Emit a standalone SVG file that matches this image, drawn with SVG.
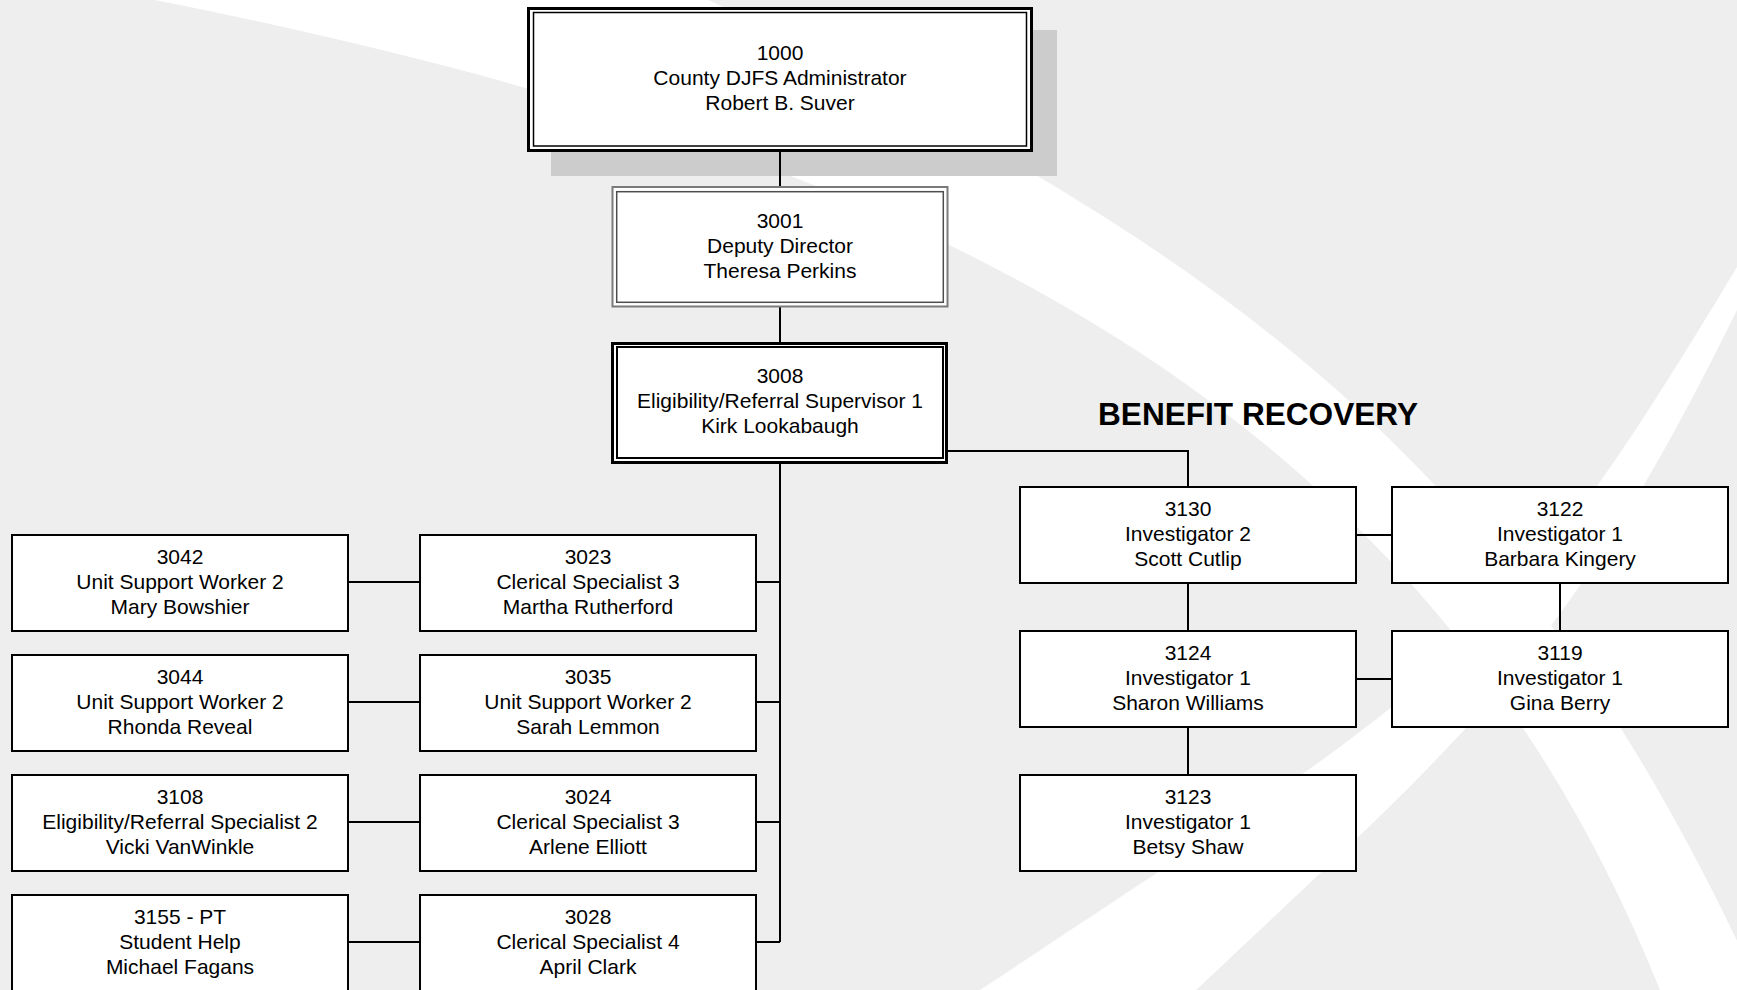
<svg xmlns="http://www.w3.org/2000/svg" width="1737" height="990" viewBox="0 0 1737 990">
  <style>
    .bg { fill: #eeeeee; }
    .sw { fill: #ffffff; }
    .box { fill: #ffffff; stroke: #000000; stroke-width: 2; }
    .conn { fill: none; stroke: #000000; stroke-width: 2; }
    text { font-family: "Liberation Sans", Arial, sans-serif; font-size: 21px; fill: #000000; text-anchor: middle; }
    .title { font-size: 31px; font-weight: bold; text-anchor: start; }
  </style>
  <rect class="bg" x="0" y="0" width="1737" height="990"/>
  <g id="background">
    <path class="sw" d="M155,0 C855,140 1410,365 1660,990 L1760,990 C1510,440 1209,250 709,0 Z"/>
    <path class="sw" d="M1737,267 C1497,667 1450,677 1000,977 L980,990 L1196,990 C1461,740 1565.5,660 1737,310 Z"/>
    <rect x="551" y="30" width="506" height="146" fill="#cccccc"/>
  </g>
  <g id="connectors">
    <path class="conn" d="M780,152 V186"/>
    <path class="conn" d="M780,307 V342"/>
    <path class="conn" d="M780,464 V942"/>
    <path class="conn" d="M948,451 H1188 V487"/>
    <path class="conn" d="M348,582 H420 M756,582 H780"/>
    <path class="conn" d="M348,702 H420 M756,702 H780"/>
    <path class="conn" d="M348,822 H420 M756,822 H780"/>
    <path class="conn" d="M348,942 H420 M756,942 H780"/>
    <path class="conn" d="M1356,535 H1392 M1356,679 H1392"/>
    <path class="conn" d="M1188,583 V631 M1188,727 V775 M1560,583 V631"/>
  </g>
  <g id="n1000">
    <rect x="528.5" y="8.5" width="503" height="142" fill="#ffffff" stroke="#000000" stroke-width="3"/>
    <rect x="533.5" y="12.5" width="493" height="133.5" fill="none" stroke="#000000" stroke-width="1.5"/>
    <text x="780" y="60">1000</text>
    <text x="780" y="85">County DJFS Administrator</text>
    <text x="780" y="110">Robert B. Suver</text>
  </g>
  <g id="n3001">
    <rect x="612.5" y="187" width="335" height="119.5" fill="#ffffff" stroke="#7a7a7a" stroke-width="2"/>
    <rect x="616.7" y="191.7" width="326.6" height="110.6" fill="none" stroke="#4d4d4d" stroke-width="1.5"/>
    <text x="780" y="228">3001</text>
    <text x="780" y="253">Deputy Director</text>
    <text x="780" y="278">Theresa Perkins</text>
  </g>
  <g id="n3008">
    <rect x="612.5" y="343.5" width="334" height="119" fill="#ffffff" stroke="#000000" stroke-width="3"/>
    <rect x="617" y="347" width="326" height="111" fill="none" stroke="#000000" stroke-width="2"/>
    <text x="780" y="383">3008</text>
    <text x="780" y="408">Eligibility/Referral Supervisor 1</text>
    <text x="780" y="433">Kirk Lookabaugh</text>
  </g>
  <text class="title" x="1098" y="425" textLength="320" lengthAdjust="spacingAndGlyphs">BENEFIT RECOVERY</text>
  <g id="n3042">
    <rect class="box" x="12" y="535" width="336" height="96"/>
    <text x="180" y="564">3042</text>
    <text x="180" y="589">Unit Support Worker 2</text>
    <text x="180" y="614">Mary Bowshier</text>
  </g>
  <g id="n3023">
    <rect class="box" x="420" y="535" width="336" height="96"/>
    <text x="588" y="564">3023</text>
    <text x="588" y="589">Clerical Specialist 3</text>
    <text x="588" y="614">Martha Rutherford</text>
  </g>
  <g id="n3044">
    <rect class="box" x="12" y="655" width="336" height="96"/>
    <text x="180" y="684">3044</text>
    <text x="180" y="709">Unit Support Worker 2</text>
    <text x="180" y="734">Rhonda Reveal</text>
  </g>
  <g id="n3035">
    <rect class="box" x="420" y="655" width="336" height="96"/>
    <text x="588" y="684">3035</text>
    <text x="588" y="709">Unit Support Worker 2</text>
    <text x="588" y="734">Sarah Lemmon</text>
  </g>
  <g id="n3108">
    <rect class="box" x="12" y="775" width="336" height="96"/>
    <text x="180" y="804">3108</text>
    <text x="180" y="829">Eligibility/Referral Specialist 2</text>
    <text x="180" y="854">Vicki VanWinkle</text>
  </g>
  <g id="n3024">
    <rect class="box" x="420" y="775" width="336" height="96"/>
    <text x="588" y="804">3024</text>
    <text x="588" y="829">Clerical Specialist 3</text>
    <text x="588" y="854">Arlene Elliott</text>
  </g>
  <g id="n3155">
    <rect class="box" x="12" y="895" width="336" height="96"/>
    <text x="180" y="924">3155 - PT</text>
    <text x="180" y="949">Student Help</text>
    <text x="180" y="974">Michael Fagans</text>
  </g>
  <g id="n3028">
    <rect class="box" x="420" y="895" width="336" height="96"/>
    <text x="588" y="924">3028</text>
    <text x="588" y="949">Clerical Specialist 4</text>
    <text x="588" y="974">April Clark</text>
  </g>
  <g id="n3130">
    <rect class="box" x="1020" y="487" width="336" height="96"/>
    <text x="1188" y="516">3130</text>
    <text x="1188" y="541">Investigator 2</text>
    <text x="1188" y="566">Scott Cutlip</text>
  </g>
  <g id="n3122">
    <rect class="box" x="1392" y="487" width="336" height="96"/>
    <text x="1560" y="516">3122</text>
    <text x="1560" y="541">Investigator 1</text>
    <text x="1560" y="566">Barbara Kingery</text>
  </g>
  <g id="n3124">
    <rect class="box" x="1020" y="631" width="336" height="96"/>
    <text x="1188" y="660">3124</text>
    <text x="1188" y="685">Investigator 1</text>
    <text x="1188" y="710">Sharon Williams</text>
  </g>
  <g id="n3119">
    <rect class="box" x="1392" y="631" width="336" height="96"/>
    <text x="1560" y="660">3119</text>
    <text x="1560" y="685">Investigator 1</text>
    <text x="1560" y="710">Gina Berry</text>
  </g>
  <g id="n3123">
    <rect class="box" x="1020" y="775" width="336" height="96"/>
    <text x="1188" y="804">3123</text>
    <text x="1188" y="829">Investigator 1</text>
    <text x="1188" y="854">Betsy Shaw</text>
  </g>
</svg>
